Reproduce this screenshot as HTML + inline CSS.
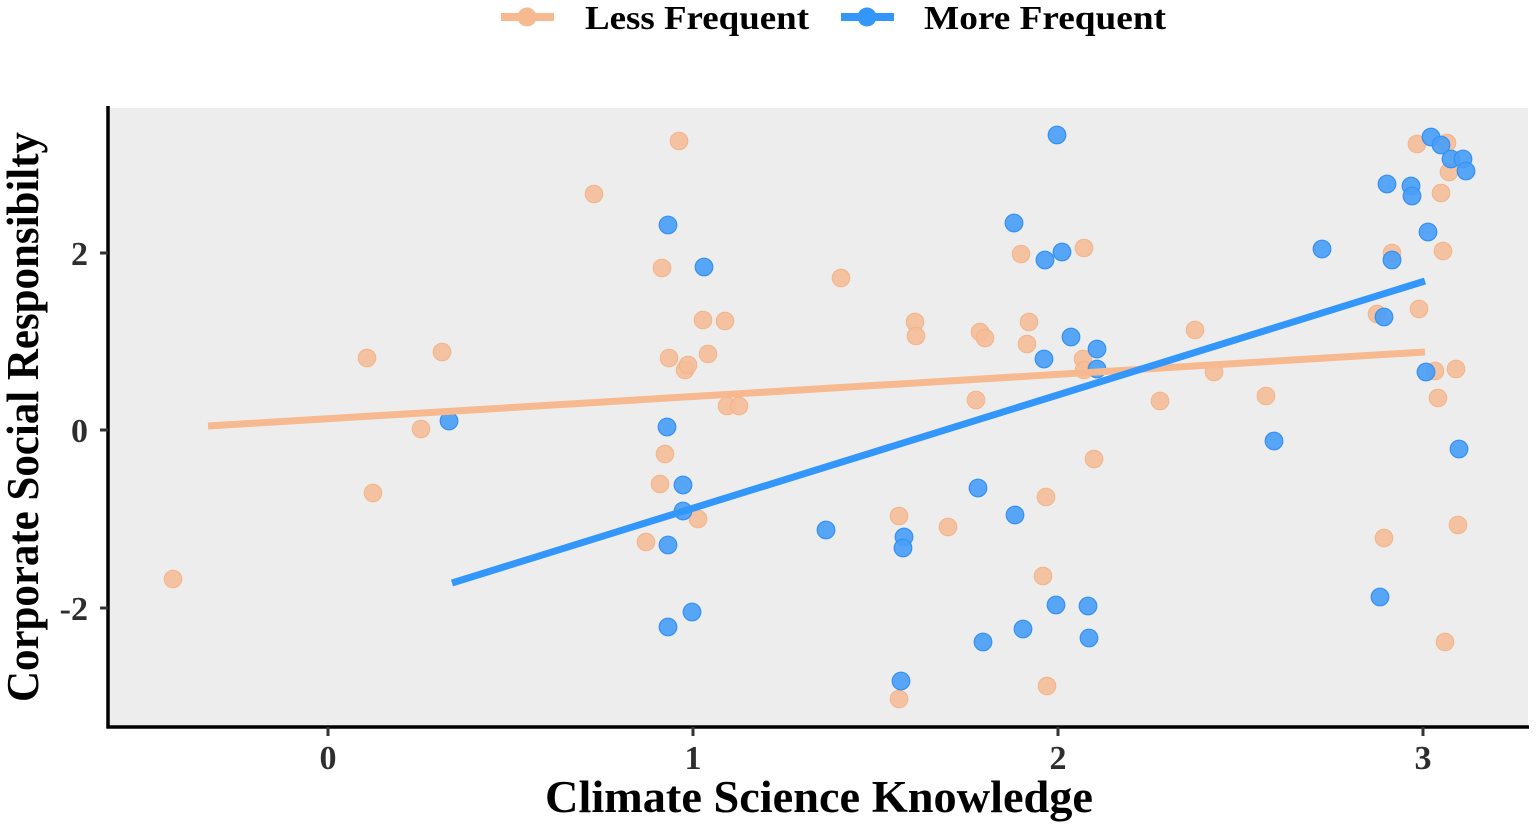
<!DOCTYPE html>
<html>
<head>
<meta charset="utf-8">
<style>
  html, body { margin: 0; padding: 0; background: #ffffff; }
  svg { display: block; }
  text { font-family: "Liberation Serif", "Times New Roman", serif; font-weight: bold; }
</style>
</head>
<body>
<svg width="1536" height="829" viewBox="0 0 1536 829" xmlns="http://www.w3.org/2000/svg">
  <rect x="0" y="0" width="1536" height="829" fill="#ffffff"/>

  <line x1="501" y1="17" x2="554" y2="17" stroke="#F7B990" stroke-width="8"/>
  <circle cx="527" cy="17" r="9.5" fill="#F7B990"/>
  <text x="585" y="29" font-size="34" fill="#000" textLength="224" lengthAdjust="spacingAndGlyphs">Less Frequent</text>
  <line x1="841" y1="17" x2="894" y2="17" stroke="#3396FA" stroke-width="8"/>
  <circle cx="867" cy="17" r="9.5" fill="#3396FA"/>
  <text x="924" y="29" font-size="34" fill="#000" textLength="242" lengthAdjust="spacingAndGlyphs">More Frequent</text>

  <rect x="108" y="108" width="1420" height="618" fill="#EDEDED"/>

  <g fill="#F5BC96" fill-opacity="0.88" stroke="#F2B48A" stroke-width="1">
    <circle cx="173" cy="579" r="8.8"/>
    <circle cx="367" cy="358" r="8.8"/>
    <circle cx="373" cy="493" r="8.8"/>
    <circle cx="421" cy="429" r="8.8"/>
    <circle cx="442" cy="352" r="8.8"/>
    <circle cx="594" cy="194" r="8.8"/>
    <circle cx="679" cy="141" r="8.8"/>
    <circle cx="662" cy="268" r="8.8"/>
    <circle cx="669" cy="358" r="8.8"/>
    <circle cx="665" cy="454" r="8.8"/>
    <circle cx="660" cy="484" r="8.8"/>
    <circle cx="646" cy="542" r="8.8"/>
    <circle cx="685" cy="370" r="8.8"/>
    <circle cx="688" cy="365" r="8.8"/>
    <circle cx="708" cy="354" r="8.8"/>
    <circle cx="703" cy="320" r="8.8"/>
    <circle cx="725" cy="321" r="8.8"/>
    <circle cx="698" cy="519" r="8.8"/>
    <circle cx="727" cy="406" r="8.8"/>
    <circle cx="739" cy="406" r="8.8"/>
    <circle cx="841" cy="278" r="8.8"/>
    <circle cx="899" cy="516" r="8.8"/>
    <circle cx="899" cy="699" r="8.8"/>
    <circle cx="915" cy="322" r="8.8"/>
    <circle cx="916" cy="336" r="8.8"/>
    <circle cx="948" cy="527" r="8.8"/>
    <circle cx="976" cy="400" r="8.8"/>
    <circle cx="980" cy="332" r="8.8"/>
    <circle cx="985" cy="338" r="8.8"/>
    <circle cx="1021" cy="254" r="8.8"/>
    <circle cx="1027" cy="344" r="8.8"/>
    <circle cx="1029" cy="322" r="8.8"/>
    <circle cx="1043" cy="576" r="8.8"/>
    <circle cx="1046" cy="497" r="8.8"/>
    <circle cx="1047" cy="686" r="8.8"/>
    <circle cx="1084" cy="248" r="8.8"/>
    <circle cx="1083" cy="359" r="8.8"/>
    <circle cx="1084" cy="370" r="8.8"/>
    <circle cx="1094" cy="459" r="8.8"/>
    <circle cx="1160" cy="401" r="8.8"/>
    <circle cx="1195" cy="330" r="8.8"/>
    <circle cx="1214" cy="372" r="8.8"/>
    <circle cx="1266" cy="396" r="8.8"/>
    <circle cx="1377" cy="314" r="8.8"/>
    <circle cx="1384" cy="538" r="8.8"/>
    <circle cx="1392" cy="253" r="8.8"/>
    <circle cx="1419" cy="309" r="8.8"/>
    <circle cx="1417" cy="144" r="8.8"/>
    <circle cx="1435" cy="371" r="8.8"/>
    <circle cx="1438" cy="398" r="8.8"/>
    <circle cx="1447" cy="143" r="8.8"/>
    <circle cx="1441" cy="193" r="8.8"/>
    <circle cx="1443" cy="251" r="8.8"/>
    <circle cx="1449" cy="172" r="8.8"/>
    <circle cx="1445" cy="642" r="8.8"/>
    <circle cx="1456" cy="369" r="8.8"/>
    <circle cx="1458" cy="525" r="8.8"/>
  </g>

  <g fill="#4A9EF6" fill-opacity="0.92" stroke="#3590F2" stroke-width="1.2">
    <circle cx="449" cy="421" r="8.8"/>
    <circle cx="668" cy="225" r="8.8"/>
    <circle cx="667" cy="427" r="8.8"/>
    <circle cx="668" cy="545" r="8.8"/>
    <circle cx="668" cy="627" r="8.8"/>
    <circle cx="683" cy="485" r="8.8"/>
    <circle cx="683" cy="511" r="8.8"/>
    <circle cx="692" cy="612" r="8.8"/>
    <circle cx="704" cy="267" r="8.8"/>
    <circle cx="826" cy="530" r="8.8"/>
    <circle cx="901" cy="681" r="8.8"/>
    <circle cx="904" cy="537" r="8.8"/>
    <circle cx="903" cy="548" r="8.8"/>
    <circle cx="978" cy="488" r="8.8"/>
    <circle cx="983" cy="642" r="8.8"/>
    <circle cx="1014" cy="223" r="8.8"/>
    <circle cx="1015" cy="515" r="8.8"/>
    <circle cx="1023" cy="629" r="8.8"/>
    <circle cx="1045" cy="260" r="8.8"/>
    <circle cx="1044" cy="359" r="8.8"/>
    <circle cx="1056" cy="605" r="8.8"/>
    <circle cx="1057" cy="135" r="8.8"/>
    <circle cx="1062" cy="252" r="8.8"/>
    <circle cx="1071" cy="337" r="8.8"/>
    <circle cx="1088" cy="606" r="8.8"/>
    <circle cx="1089" cy="638" r="8.8"/>
    <circle cx="1097" cy="349" r="8.8"/>
    <circle cx="1097" cy="369" r="8.8"/>
    <circle cx="1274" cy="441" r="8.8"/>
    <circle cx="1322" cy="249" r="8.8"/>
    <circle cx="1380" cy="597" r="8.8"/>
    <circle cx="1384" cy="317" r="8.8"/>
    <circle cx="1387" cy="184" r="8.8"/>
    <circle cx="1392" cy="260" r="8.8"/>
    <circle cx="1411" cy="186" r="8.8"/>
    <circle cx="1412" cy="196" r="8.8"/>
    <circle cx="1426" cy="372" r="8.8"/>
    <circle cx="1428" cy="232" r="8.8"/>
    <circle cx="1431" cy="137" r="8.8"/>
    <circle cx="1441" cy="145" r="8.8"/>
    <circle cx="1451" cy="159" r="8.8"/>
    <circle cx="1459" cy="449" r="8.8"/>
    <circle cx="1463" cy="159" r="8.8"/>
    <circle cx="1466" cy="171" r="8.8"/>
  </g>

  <line x1="208" y1="426" x2="1425" y2="352" stroke="#F7B98F" stroke-width="7"/>
  <line x1="452" y1="583" x2="1425" y2="281" stroke="#3396FA" stroke-width="7"/>

  <line x1="108" y1="106" x2="108" y2="728.5" stroke="#000" stroke-width="3.5"/>
  <line x1="106.5" y1="727" x2="1529" y2="727" stroke="#000" stroke-width="3.5"/>

  <g stroke="#333" stroke-width="3">
    <line x1="100" y1="253" x2="108" y2="253"/>
    <line x1="100" y1="430" x2="108" y2="430"/>
    <line x1="100" y1="608" x2="108" y2="608"/>
    <line x1="328" y1="727" x2="328" y2="736"/>
    <line x1="693" y1="727" x2="693" y2="736"/>
    <line x1="1058" y1="727" x2="1058" y2="736"/>
    <line x1="1423" y1="727" x2="1423" y2="736"/>
  </g>

  <g font-size="34" fill="#2e2e2e" text-anchor="end">
    <text x="88" y="265">2</text>
    <text x="88" y="442">0</text>
    <text x="88" y="620">-2</text>
  </g>
  <g font-size="34" fill="#2e2e2e" text-anchor="middle">
    <text x="328" y="769">0</text>
    <text x="693" y="769">1</text>
    <text x="1058" y="769">2</text>
    <text x="1423" y="769">3</text>
  </g>

  <text x="545" y="812" font-size="45" fill="#000" textLength="548" lengthAdjust="spacingAndGlyphs">Climate Science Knowledge</text>
  <text transform="translate(38,417) rotate(-90)" x="0" y="0" font-size="45" fill="#000" text-anchor="middle" textLength="570" lengthAdjust="spacingAndGlyphs">Corporate Social Responsibilty</text>
</svg>
</body>
</html>
